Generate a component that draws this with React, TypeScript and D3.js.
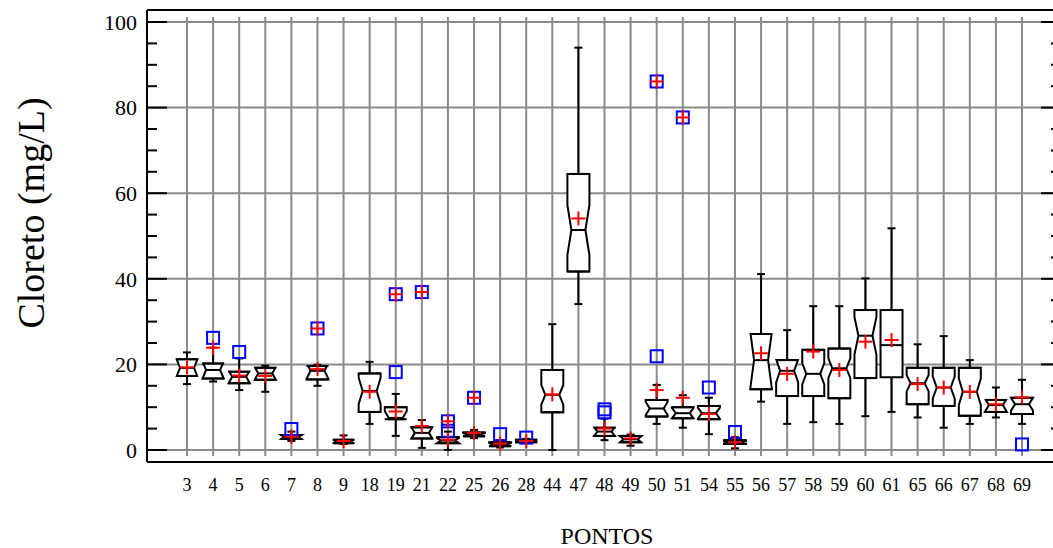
import React, { useRef, useEffect } from 'react';
import * as d3 from 'd3';

const WIDTH = 1053;
const HEIGHT = 548;
const FONT = '"Liberation Serif", "Times New Roman", serif';

const CATEGORIES = ['3', '4', '5', '6', '7', '8', '9', '18', '19', '21', '22', '25', '26', '28', '44', '47', '48', '49', '50', '51', '54', '55', '56', '57', '58', '59', '60', '61', '65', '66', '67', '68', '69'];
const WHISKER_LO = [15.4, 16.0, 14.0, 13.6, 2.1, 15.0, 1.4, 6.1, 3.3, 0.5, 0.0, 2.8, 0.6, 1.6, 0.0, 34.1, 2.3, 1.0, 6.1, 5.2, 3.7, 0.4, 11.3, 6.1, 6.5, 6.1, 7.9, 8.9, 7.6, 5.2, 6.1, 7.6, 6.1];
const Q1 = [17.3, 16.7, 15.6, 16.4, 2.6, 16.5, 1.6, 8.9, 7.2, 2.7, 1.6, 3.2, 0.9, 1.8, 8.8, 41.7, 3.3, 1.8, 7.8, 7.4, 7.2, 1.4, 14.2, 12.6, 12.6, 12.1, 16.8, 17.0, 10.7, 10.3, 8.0, 8.9, 8.4];
const MEDIAN = [19.2, 18.7, 17.1, 17.9, 3.0, 18.5, 2.0, 13.8, 7.5, 4.0, 2.2, 3.6, 1.3, 2.1, 12.9, 51.4, 4.3, 2.5, 9.7, 8.6, 8.6, 1.8, 21.0, 18.5, 17.8, 19.1, 26.7, 24.5, 15.6, 14.6, 13.6, 10.5, 10.7];
const Q3 = [21.2, 20.2, 18.3, 19.2, 3.5, 19.6, 2.4, 17.9, 10.0, 5.3, 3.0, 4.1, 1.8, 2.4, 18.7, 64.5, 5.2, 3.3, 11.7, 10.0, 10.3, 2.3, 27.1, 21.0, 23.4, 23.7, 32.7, 32.7, 19.2, 19.2, 19.2, 11.7, 12.2];
const WHISKER_HI = [22.8, 23.9, 21.4, 19.7, 4.3, 19.9, 3.4, 20.6, 13.1, 7.0, 4.3, 4.7, 2.3, 2.6, 29.4, 94.0, 7.3, 3.6, 15.2, 12.8, 12.2, 3.0, 41.1, 28.0, 33.6, 33.6, 40.1, 51.8, 24.7, 26.6, 21.0, 14.6, 16.4];
const MEAN = [19.3, 23.9, 17.4, 17.3, 3.1, 18.9, 2.1, 13.6, 9.0, 5.6, 2.4, 4.0, 1.5, 2.1, 13.0, 54.1, 5.0, 2.7, 14.0, 12.2, 8.4, 1.8, 22.6, 17.8, 23.0, 18.7, 25.3, 25.7, 15.4, 14.6, 13.6, 10.7, 12.3];
// notch half-height in mg/L (0 = plain box)
const NOTCH = [2.4, 2.2, 1.7, 1.7, 0.6, 1.9, 0.5, 3.1, 1.6, 1.5, 0.6, 0.4, 0.4, 0.3, 2.3, 5.8, 1.2, 0.8, 1.6, 1.3, 1.3, 0.3, 7.0, 2.7, 2.5, 2.3, 4.4, 0, 1.9, 2.6, 3.1, 1.6, 1.5];

// outside points (plain square) and far outside points (square with plus)
const OUTSIDE: [string, number][] = [['4', 26.2], ['5', 22.9], ['7', 4.9], ['19', 18.2], ['22', 4.5], ['26', 3.7], ['28', 2.9], ['48', 9.5], ['48', 8.8], ['50', 21.9], ['54', 14.6], ['55', 4.2], ['69', 1.3]];
const FAR_OUTSIDE: [string, number][] = [['8', 28.4], ['19', 36.4], ['21', 36.9], ['22', 6.7], ['25', 12.2], ['50', 86.1], ['51', 77.7]];

const Y_TICKS = [0, 20, 40, 60, 80, 100];
const Y_MINOR = d3.range(0, 101, 5);

const LEFT = 147;
const RIGHT = 1061;
const TOP = 10;
const BOTTOM = 462;

const App: React.FC = () => {
  const svgRef = useRef<SVGSVGElement>(null);

  useEffect(() => {
    if (!svgRef.current) return;
    const svg = d3.select(svgRef.current);
    svg.selectAll('*').remove();

    const x = d3.scalePoint<string>().domain(CATEGORIES).range([187, 1022]);
    const y = d3.scaleLinear().domain([0, 100]).range([450, 22]);

    // grid
    const grid = svg.append('g').attr('stroke', '#8a8a8a').attr('stroke-width', 2);
    Y_TICKS.forEach((t) => {
      grid.append('line').attr('x1', LEFT).attr('x2', RIGHT).attr('y1', y(t)).attr('y2', y(t));
    });
    CATEGORIES.forEach((c) => {
      grid.append('line').attr('x1', x(c)!).attr('x2', x(c)!).attr('y1', 17).attr('y2', 456);
    });

    // frame + ticks
    const frame = svg.append('g').attr('stroke', '#000').attr('stroke-width', 2);
    frame.append('line').attr('x1', LEFT).attr('x2', LEFT).attr('y1', TOP).attr('y2', BOTTOM);
    frame.append('line').attr('x1', LEFT).attr('x2', RIGHT).attr('y1', TOP).attr('y2', TOP);
    frame.append('line').attr('x1', LEFT).attr('x2', RIGHT).attr('y1', BOTTOM).attr('y2', BOTTOM);
    Y_MINOR.forEach((t) => {
      const len = t % 20 === 0 ? 20 : 10;
      frame.append('line').attr('x1', LEFT).attr('x2', LEFT + len).attr('y1', y(t)).attr('y2', y(t));
      frame.append('line').attr('x1', RIGHT - len).attr('x2', RIGHT).attr('y1', y(t)).attr('y2', y(t));
    });

    // y tick labels
    svg.append('g')
      .selectAll('text')
      .data(Y_TICKS)
      .join('text')
      .attr('x', 137)
      .attr('y', (d) => y(d))
      .attr('dy', '0.35em')
      .attr('text-anchor', 'end')
      .attr('font-family', FONT)
      .attr('font-size', 22)
      .text((d) => d);

    // x tick labels
    svg.append('g')
      .selectAll('text')
      .data(CATEGORIES)
      .join('text')
      .attr('x', (d) => x(d)!)
      .attr('y', 491)
      .attr('text-anchor', 'middle')
      .attr('font-family', FONT)
      .attr('font-size', 18)
      .text((d) => d);

    // axis titles
    svg.append('text')
      .attr('x', 607)
      .attr('y', 544)
      .attr('text-anchor', 'middle')
      .attr('font-family', FONT)
      .attr('font-size', 24)
      .text('PONTOS');
    svg.append('text')
      .attr('transform', 'translate(44, 213) rotate(-90)')
      .attr('text-anchor', 'middle')
      .attr('font-family', FONT)
      .attr('font-size', 38)
      .text('Cloreto (mg/L)');

    // boxes
    const HW = 11; // box half width
    const IND = 4; // notch indent
    const CAP = 4;
    const boxes = svg.append('g').attr('stroke', '#000').attr('stroke-width', 2).attr('fill', 'none');

    CATEGORIES.forEach((c, i) => {
      const cx = x(c)!;
      const L = cx - HW;
      const R = cx + HW;
      const q1 = Q1[i];
      const q3 = Q3[i];
      const med = MEDIAN[i];
      const nh = NOTCH[i];

      // whiskers
      boxes.append('line').attr('x1', cx).attr('x2', cx).attr('y1', y(q3)).attr('y2', y(WHISKER_HI[i]));
      boxes.append('line').attr('x1', cx).attr('x2', cx).attr('y1', y(q1)).attr('y2', y(WHISKER_LO[i]));
      boxes.append('line').attr('x1', cx - CAP).attr('x2', cx + CAP).attr('y1', y(WHISKER_HI[i])).attr('y2', y(WHISKER_HI[i]));
      boxes.append('line').attr('x1', cx - CAP).attr('x2', cx + CAP).attr('y1', y(WHISKER_LO[i])).attr('y2', y(WHISKER_LO[i]));

      if (nh === 0) {
        boxes.append('rect').attr('x', L).attr('y', y(q3)).attr('width', 2 * HW).attr('height', y(q1) - y(q3)).attr('fill', '#fff');
        boxes.append('line').attr('x1', L).attr('x2', R).attr('y1', y(med)).attr('y2', y(med));
        return;
      }

      const inset = (v: number) => IND * Math.max(0, 1 - Math.abs(v - med) / nh);
      const side: [number, number][] = [[inset(q3), q3]];
      if (med + nh < q3) side.push([0, med + nh]);
      side.push([IND, med]);
      if (med - nh > q1) side.push([0, med - nh]);
      side.push([inset(q1), q1]);

      const right = side.map(([d, v]) => [R - d, y(v)] as [number, number]);
      const left = side.slice().reverse().map(([d, v]) => [L + d, y(v)] as [number, number]);
      boxes.append('path')
        .attr('d', (d3.line()([...right, ...left]) ?? '') + 'Z')
        .attr('fill', '#fff');
      boxes.append('line').attr('x1', L).attr('x2', R).attr('y1', y(q3)).attr('y2', y(q3));
      boxes.append('line').attr('x1', L).attr('x2', R).attr('y1', y(q1)).attr('y2', y(q1));
      boxes.append('line').attr('x1', L + IND).attr('x2', R - IND).attr('y1', y(med)).attr('y2', y(med));
    });

    const plus = (g: d3.Selection<SVGGElement, unknown, null, undefined>, cx: number, cy: number) => {
      g.append('line').attr('x1', cx - 7).attr('x2', cx + 7).attr('y1', cy).attr('y2', cy);
      g.append('line').attr('x1', cx).attr('x2', cx).attr('y1', cy - 7).attr('y2', cy + 7);
    };

    // outside points
    const pts = svg.append('g').attr('fill', 'none').attr('stroke-width', 2);
    [...OUTSIDE, ...FAR_OUTSIDE].forEach(([c, v]) => {
      pts.append('rect')
        .attr('x', x(c)! - 6)
        .attr('y', y(v) - 6)
        .attr('width', 12)
        .attr('height', 12)
        .attr('stroke', '#0000ff');
    });

    // means and far-outside plus signs
    const red = svg.append('g').attr('stroke', '#ff0000').attr('stroke-width', 2);
    MEAN.forEach((m, i) => plus(red, x(CATEGORIES[i])!, y(m)));
    FAR_OUTSIDE.forEach(([c, v]) => plus(red, x(c)!, y(v)));
  }, []);

  return (
    <svg
      ref={svgRef}
      width={WIDTH}
      height={HEIGHT}
      style={{ position: 'absolute', left: 0, top: 0, background: '#fff' }}
    />
  );
};

export default App;
